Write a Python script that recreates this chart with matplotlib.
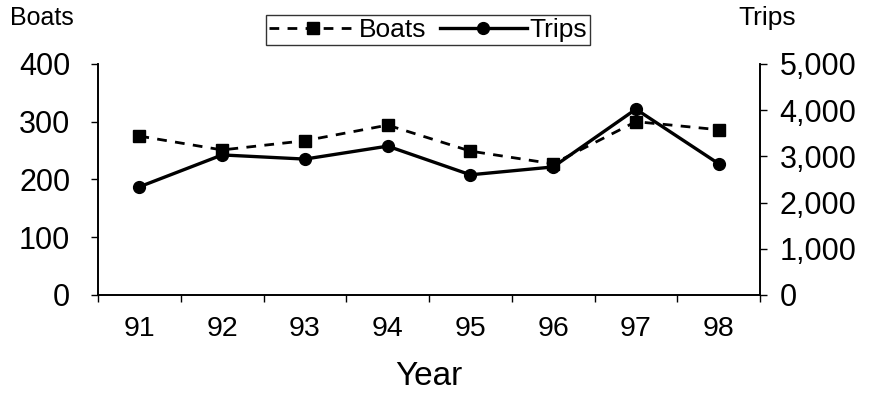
import matplotlib
matplotlib.use('Agg')
import matplotlib.pyplot as plt
from matplotlib.ticker import FuncFormatter, FixedLocator

# Boats and trips per year
years = ['91', '92', '93', '94', '95', '96', '97', '98']
boats = [275, 251, 267, 294, 249, 227, 300, 286]
trips = [2340, 3030, 2940, 3220, 2600, 2770, 4020, 2840]

plt.rcParams['font.family'] = ['Liberation Sans', 'DejaVu Sans']

fig = plt.figure(figsize=(8.69, 4.12), dpi=100)
ax = fig.add_axes([0.1128, 0.284, 0.7618, 0.561])
ax2 = ax.twinx()

x = list(range(len(years)))

l1, = ax.plot(x, boats, color='black', linestyle=(0, (3.5, 3)), linewidth=2.0,
              marker='s', markersize=8, label='Boats', zorder=3)
l2, = ax2.plot(x, trips, color='black', linestyle='-', linewidth=2.4,
               marker='o', markersize=8.5, label='Trips', zorder=3)

ax.set_xlim(-0.5, len(years) - 0.5)
ax.set_ylim(0, 400)
ax2.set_ylim(0, 5000)
ax.set_yticks([0, 100, 200, 300, 400])
ax2.set_yticks([0, 1000, 2000, 3000, 4000, 5000])
ax2.yaxis.set_major_formatter(FuncFormatter(lambda v, p: f"{int(v):,}"))

# category labels in the middle, tick marks on the boundaries
ax.set_xticks(x)
ax.set_xticklabels(years)
ax.xaxis.set_minor_locator(FixedLocator([i - 0.5 for i in range(len(years) + 1)]))
ax.tick_params(axis='x', which='major', length=0, pad=15, labelsize=20.5)
ax.tick_params(axis='x', which='minor', length=5, direction='out', width=1)
ax.tick_params(axis='y', length=5, width=1, pad=15, labelsize=22)
ax2.tick_params(axis='y', length=5, width=1, pad=9, labelsize=22)

for a in (ax, ax2):
    a.spines['top'].set_visible(False)
    for s in ('left', 'right', 'bottom'):
        a.spines[s].set_linewidth(1.2)

ax.set_xlabel('Year', fontsize=24, labelpad=14)

fig.text(10 / 869, 1 - 18 / 412, 'Boats', fontsize=18, va='center', ha='left')
fig.text(738 / 869, 1 - 18 / 412, 'Trips', fontsize=19, va='center', ha='left')

leg = fig.legend(handles=[l1, l2], loc='center', ncol=2,
                 bbox_to_anchor=(428 / 869, 1 - 30 / 412), fontsize=19,
                 frameon=True, fancybox=False, handlelength=3.3,
                 handletextpad=0.1, columnspacing=0.5, borderpad=0.12,
                 borderaxespad=0)
leg.get_frame().set_edgecolor('black')
leg.get_frame().set_linewidth(1.0)

fig.savefig('out.png', dpi=100)
